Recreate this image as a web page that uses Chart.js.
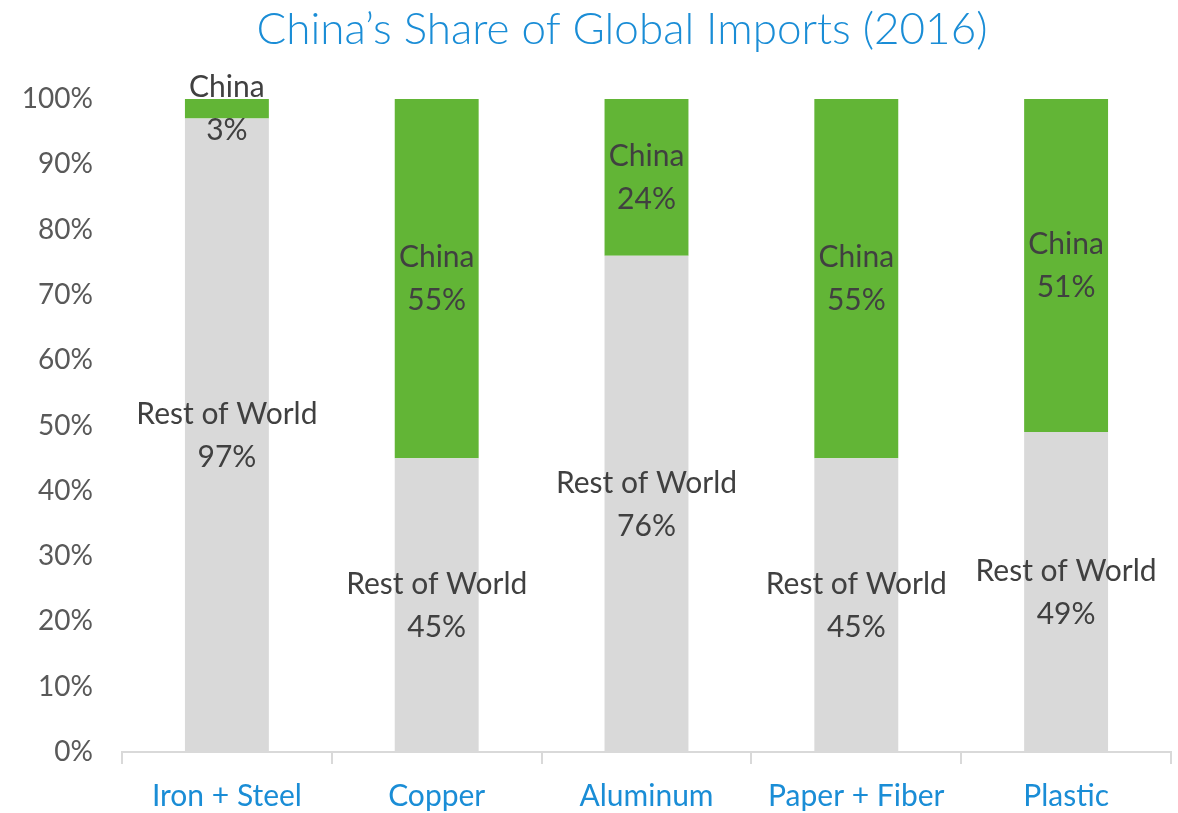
<!DOCTYPE html>
<html>
<head>
<meta charset="utf-8">
<script src="https://cdn.jsdelivr.net/npm/chart.js@4"></script>
<style>
  html, body { margin: 0; padding: 0; background: #fff; }
  #wrap { width: 1178px; height: 813px; }
</style>
</head>
<body>
<div id="wrap"><canvas id="chart" width="1178" height="813"></canvas></div>
<script>
const categories = ['Iron + Steel', 'Copper', 'Aluminum', 'Paper + Fiber', 'Plastic'];
const restOfWorld = [97, 45, 76, 45, 49];
const china = [3, 55, 24, 55, 51];
const yTicks = [0, 10, 20, 30, 40, 50, 60, 70, 80, 90, 100];
const titleText = 'China\u2019s Share of Global Imports (2016)';

const FONT = 'Lato, "Open Sans", sans-serif';

// title sits a bit right of centre in the original, so draw it here
const titlePlugin = {
    id: 'offsetTitle',
    afterDraw(chart) {
        const ctx = chart.ctx;
        ctx.save();
        ctx.font = '300 44px ' + FONT;
        ctx.fillStyle = '#1a8dd6';
        ctx.textAlign = 'center';
        ctx.textBaseline = 'middle';
        ctx.fillText(titleText, 622, 30);
        ctx.restore();
    }
};

// labels in the middle of each segment: series name + value
const segmentLabels = {
    id: 'segmentLabels',
    afterDatasetsDraw(chart) {
        const ctx = chart.ctx;
        ctx.save();
        ctx.font = '30px ' + FONT;
        ctx.fillStyle = '#404040';
        ctx.textAlign = 'center';
        ctx.textBaseline = 'middle';
        chart.data.datasets.forEach(function (ds, i) {
            const meta = chart.getDatasetMeta(i);
            meta.data.forEach(function (bar, j) {
                const cy = (bar.y + bar.base) / 2;
                ctx.fillText(ds.label, bar.x, cy - 21);
                ctx.fillText(ds.data[j] + '%', bar.x, cy + 22);
            });
        });
        ctx.restore();
    }
};

const chart = new Chart(document.getElementById('chart'), {
    type: 'bar',
    data: {
        labels: categories,
        datasets: [
            {
                label: 'Rest of World',
                data: restOfWorld,
                backgroundColor: '#d9d9d9',
                barPercentage: 0.4,
                categoryPercentage: 1
            },
            {
                label: 'China',
                data: china,
                backgroundColor: '#62b536',
                barPercentage: 0.4,
                categoryPercentage: 1
            }
        ]
    },
    options: {
        responsive: false,
        animation: false,
        layout: { padding: { left: 0, right: 7, top: 99, bottom: 0 } },
        plugins: {
            legend: { display: false },
            tooltip: { enabled: false },
            title: { display: false }
        },
        scales: {
            x: {
                stacked: true,
                offset: true,
                grid: {
                    display: true,
                    drawOnChartArea: false,
                    drawTicks: true,
                    tickLength: 12,
                    color: '#d9d9d9',
                    lineWidth: 2,
                    offset: true
                },
                border: { display: true, color: '#d9d9d9', width: 2 },
                ticks: {
                    color: '#1a8dd6',
                    font: { family: FONT, size: 30 },
                    padding: 14,
                    maxRotation: 0
                },
                afterFit(scale) { scale.height = 61; }
            },
            y: {
                stacked: true,
                min: 0,
                max: 100,
                afterBuildTicks(scale) {
                    scale.ticks = yTicks.map(v => ({ value: v }));
                },
                grid: { display: false },
                border: { display: false },
                ticks: {
                    color: '#595959',
                    font: { family: FONT, size: 28 },
                    padding: 21,
                    callback: v => v + '%'
                },
                afterFit(scale) { scale.width = 122; }
            }
        }
    },
    plugins: [segmentLabels, titlePlugin]
});
</script>
</body>
</html>
